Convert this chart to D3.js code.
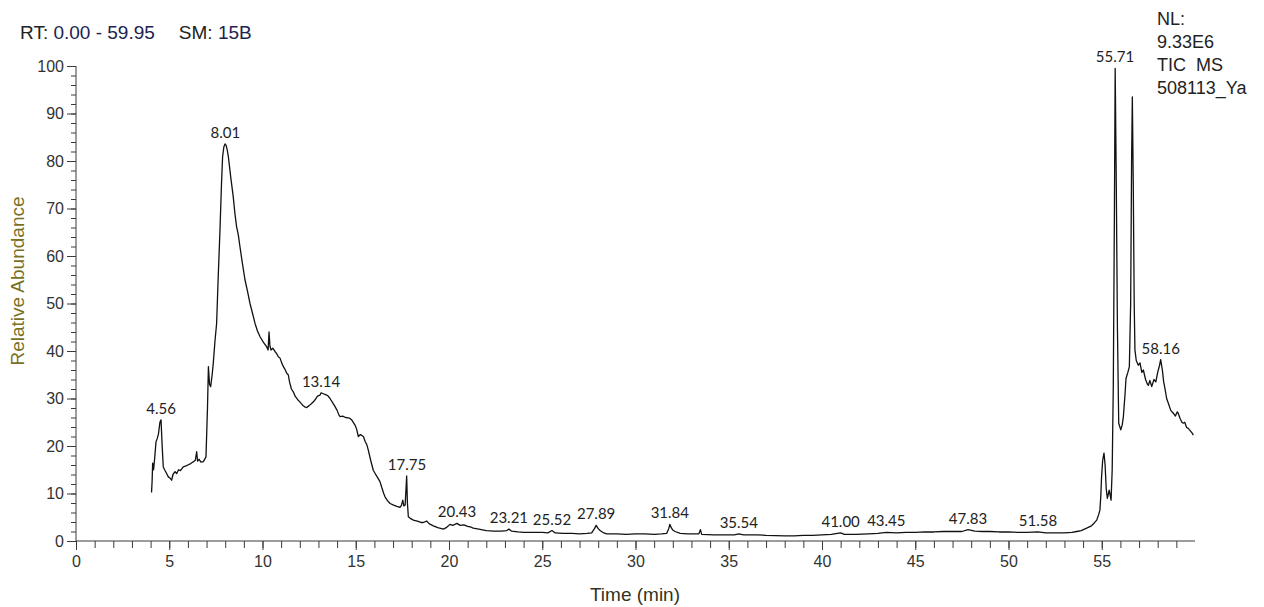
<!DOCTYPE html>
<html>
<head>
<meta charset="utf-8">
<script src="https://cdn.jsdelivr.net/npm/d3@7/dist/d3.min.js"></script>
<style>
  html, body { margin: 0; padding: 0; background: #ffffff; }
  svg { display: block; }
</style>
</head>
<body>
<svg id="chart" width="1264" height="607"></svg>
<script>
// ---- Data ----
const times = [
  4.05,4.08,4.11,4.16,4.22,4.29,4.35,4.42,4.50,4.56,4.62,4.68,4.75,4.86,4.95,5.05,5.13,5.20,5.31,5.40,
  5.50,5.60,5.75,5.90,6.00,6.15,6.29,6.40,6.47,6.52,6.60,6.70,6.83,6.97,7.05,7.10,7.16,7.22,7.30,7.36,
  7.45,7.54,7.62,7.72,7.80,7.86,7.93,7.99,8.05,8.10,8.17,8.30,8.43,8.52,8.61,8.70,8.79,8.92,9.06,9.20,
  9.33,9.46,9.60,9.73,9.87,10.05,10.22,10.30,10.35,10.40,10.46,10.55,10.67,10.75,10.85,10.94,11.03,11.12,11.20,11.30,
  11.38,11.45,11.55,11.65,11.75,11.88,12.00,12.15,12.28,12.37,12.50,12.62,12.73,12.85,12.95,13.08,13.14,13.26,13.38,13.50,
  13.62,13.75,13.89,14.00,14.10,14.16,14.30,14.45,14.60,14.69,14.80,14.96,15.05,15.14,15.25,15.41,15.50,15.60,15.67,15.80,
  15.94,16.10,16.30,16.40,16.50,16.57,16.70,16.84,17.00,17.20,17.37,17.45,17.52,17.58,17.65,17.73,17.77,17.82,17.95,18.09,
  18.30,18.50,18.62,18.80,18.95,19.16,19.40,19.70,19.85,20.05,20.20,20.43,20.60,20.80,21.00,21.13,21.30,21.60,22.00,22.40,
  22.80,23.10,23.21,23.35,23.70,24.00,24.50,25.00,25.30,25.52,25.70,26.10,26.60,27.00,27.40,27.65,27.80,27.89,28.00,28.10,
  28.30,28.46,29.00,29.50,30.00,30.50,31.00,31.40,31.67,31.78,31.84,31.92,32.00,32.12,32.40,32.80,33.20,33.40,33.48,33.55,
  34.20,34.80,35.30,35.54,35.80,36.50,37.00,38.00,38.50,39.00,39.50,40.00,40.50,41.00,41.20,41.80,42.50,43.00,43.45,44.00,
  44.50,45.00,45.50,46.00,46.50,47.00,47.50,47.83,48.20,48.60,49.00,49.50,50.00,50.50,51.00,51.58,52.00,52.50,53.00,53.40,
  53.66,53.90,54.19,54.45,54.60,54.73,54.83,54.90,54.95,54.99,55.05,55.12,55.18,55.24,55.30,55.40,55.50,55.56,55.62,55.68,
  55.72,55.78,55.84,55.91,56.02,56.10,56.16,56.25,56.30,56.40,56.48,56.55,56.60,56.64,56.69,56.74,56.78,56.85,56.96,57.05,
  57.15,57.23,57.35,57.45,57.50,57.58,57.68,57.80,57.90,58.00,58.10,58.16,58.25,58.32,58.39,58.48,58.57,58.70,58.84,58.95,
  59.05,59.10,59.20,59.30,59.37,59.45,59.55,59.64,59.75,59.85,59.91
];
const abundance = [
  10.2,12.5,16.4,15.0,17.5,20.9,21.5,22.5,25.0,25.5,20.0,15.6,15.0,14.2,13.5,13.2,12.8,14.0,14.6,14.2,
  15.0,14.8,15.6,15.8,16.0,16.3,16.7,17.0,18.8,16.8,17.2,16.6,16.7,17.7,28.0,36.7,33.0,32.5,35.0,37.4,
  42.0,45.8,55.0,65.5,75.0,80.9,83.0,83.6,83.3,82.5,80.9,76.5,72.5,69.0,66.2,64.5,62.0,58.5,55.0,52.5,
  50.0,48.0,45.8,44.2,43.0,41.8,40.9,40.2,44.0,41.0,40.2,40.6,39.9,39.5,38.8,38.5,37.5,36.7,36.2,35.3,
  35.0,33.5,32.0,31.4,30.5,29.8,29.3,28.6,28.2,28.1,28.5,28.9,29.3,29.9,30.5,30.7,31.2,31.0,30.8,30.6,
  30.0,29.2,28.3,27.5,26.5,26.2,26.3,26.0,25.9,25.8,25.4,24.4,23.5,22.0,22.4,22.0,21.0,20.2,19.2,17.0,
  14.9,13.8,12.5,11.2,10.0,9.3,8.5,7.9,7.6,7.3,7.1,7.5,8.6,7.4,7.6,13.7,8.0,5.1,4.7,4.4,
  4.2,3.9,3.9,4.2,3.6,3.2,2.8,2.5,2.8,3.5,3.3,3.7,3.3,3.4,3.1,3.0,2.7,2.5,2.2,2.1,
  2.1,2.2,2.5,2.1,1.9,1.8,1.8,1.8,1.7,2.2,1.7,1.6,1.6,1.5,1.6,1.7,2.6,3.3,2.6,2.2,
  1.7,1.5,1.5,1.4,1.5,1.5,1.4,1.5,1.6,2.6,3.5,2.8,2.3,2.0,1.6,1.5,1.5,1.5,2.4,1.4,
  1.3,1.3,1.3,1.5,1.3,1.3,1.2,1.1,1.1,1.2,1.2,1.3,1.4,1.7,1.4,1.4,1.5,1.6,1.8,1.7,
  1.8,1.8,1.9,1.9,2.0,2.0,2.0,2.4,2.1,2.0,2.0,1.9,1.9,1.8,1.8,1.9,1.7,1.7,1.7,1.8,
  2.0,2.2,2.7,3.2,3.8,4.4,5.5,6.5,9.5,13.5,17.0,18.5,16.0,11.0,9.0,10.7,8.6,15.0,33.0,70.0,
  99.5,75.0,45.0,24.8,23.4,24.5,26.2,31.0,34.2,35.5,36.7,50.0,80.0,93.5,75.0,50.0,40.2,38.0,37.0,37.5,
  35.5,36.0,34.0,33.0,32.8,33.8,32.5,34.0,33.5,35.5,37.0,38.2,36.0,33.5,32.1,30.0,29.0,27.5,26.9,26.3,
  27.2,26.9,25.8,25.0,24.8,25.0,23.9,23.7,23.2,22.7,22.3
];

// labelled peaks
const peakTimes  = [4.56, 8.01, 13.14, 17.75, 20.43, 23.21, 25.52, 27.89, 31.84, 35.54, 41.00, 43.45, 47.83, 51.58, 55.71, 58.16];
const peakLabels = ["4.56","8.01","13.14","17.75","20.43","23.21","25.52","27.89","31.84","35.54","41.00","43.45","47.83","51.58","55.71","58.16"];
const peakHeights = [25.5, 83.6, 31.2, 13.7, 3.7, 2.5, 2.2, 3.3, 3.5, 1.5, 1.7, 1.8, 2.4, 1.9, 99.5, 38.2];

const xMajorTicks = [0,5,10,15,20,25,30,35,40,45,50,55];
const yMajorTicks = [0,10,20,30,40,50,60,70,80,90,100];

const headerRT = "0.00 - 59.95";
const headerSM = "15B";
const infoLines = ["NL:", "9.33E6", "TIC  MS", "508113_Ya"];

// ---- Drawing ----
const svg = d3.select("#chart");
const x = d3.scaleLinear().domain([0, 60]).range([76, 1195]);
const y = d3.scaleLinear().domain([0, 100]).range([541, 66]);

const axisColor = "#3a3a3a";
const tickFont = "Liberation Sans, Arial, sans-serif";

// X axis
const xAxis = svg.append("g").attr("transform", `translate(0,${y(0)})`);
xAxis.call(d3.axisBottom(x).tickValues(d3.range(0, 60, 1)).tickSize(7).tickFormat(""));
xAxis.call(g => g.select(".domain").attr("stroke", axisColor).attr("d", `M${x(0)},0H${x(60)}`));
xAxis.selectAll(".tick line").attr("stroke", axisColor);
const xMaj = svg.append("g").attr("transform", `translate(0,${y(0)})`)
  .call(d3.axisBottom(x).tickValues(xMajorTicks).tickSize(9).tickPadding(6).tickFormat(d3.format("d")));
xMaj.select(".domain").remove();
xMaj.selectAll(".tick line").attr("stroke", axisColor);
xMaj.selectAll(".tick text").attr("fill", "#333").style("font-family", tickFont).style("font-size", "16px");

// Y axis
const yAxis = svg.append("g").attr("transform", `translate(${x(0)},0)`);
yAxis.call(d3.axisLeft(y).tickValues(d3.range(0, 101, 2)).tickSize(5).tickFormat(""));
yAxis.call(g => g.select(".domain").attr("stroke", axisColor).attr("d", `M0,${y(0)}V${y(100)}`));
yAxis.selectAll(".tick line").attr("stroke", axisColor);
const yMaj = svg.append("g").attr("transform", `translate(${x(0)},0)`)
  .call(d3.axisLeft(y).tickValues(yMajorTicks).tickSize(9).tickPadding(3).tickFormat(d3.format("d")));
yMaj.select(".domain").remove();
yMaj.selectAll(".tick line").attr("stroke", axisColor);
yMaj.selectAll(".tick text").attr("fill", "#333").style("font-family", tickFont).style("font-size", "16px");

// trace
const pts = times.map((t, i) => [t, abundance[i]]);
svg.append("path")
  .datum(pts)
  .attr("fill", "none")
  .attr("stroke", "#111")
  .attr("stroke-width", 1.3)
  .attr("stroke-linejoin", "round")
  .attr("d", d3.line().x(d => x(d[0])).y(d => y(d[1])));

// peak labels
svg.append("g").selectAll("text")
  .data(peakTimes)
  .join("text")
  .attr("x", d => x(d))
  .attr("y", (d, i) => y(peakHeights[i]) - 6)
  .attr("text-anchor", "middle")
  .attr("fill", "#222")
  .style("font-family", "Lato, 'Open Sans', sans-serif")
  .style("font-size", "15px")
  .text((d, i) => peakLabels[i]);

// header
const hdr = svg.append("text")
  .attr("x", 20).attr("y", 39)
  .style("font-family", tickFont).style("font-size", "19px").attr("fill", "#222");
hdr.append("tspan").text("RT: ");
hdr.append("tspan").attr("fill", "#1c2350").text(headerRT);
hdr.append("tspan").attr("dx", 24).text("SM: ");
hdr.append("tspan").attr("fill", "#1c2350").text(headerSM);

// info block
svg.append("g").selectAll("text")
  .data(infoLines)
  .join("text")
  .attr("x", 1157)
  .attr("y", (d, i) => 25 + i * 23)
  .attr("fill", "#222")
  .style("font-family", tickFont).style("font-size", "18px")
  .style("white-space", "pre")
  .text(d => d);

// axis titles
svg.append("text")
  .attr("transform", `translate(24,281) rotate(-90)`)
  .attr("text-anchor", "middle")
  .attr("fill", "#7a6f1e")
  .style("font-family", tickFont).style("font-size", "19px")
  .text("Relative Abundance");

svg.append("text")
  .attr("x", 635).attr("y", 601)
  .attr("text-anchor", "middle")
  .attr("fill", "#33331f")
  .style("font-family", tickFont).style("font-size", "19px")
  .text("Time (min)");
</script>
</body>
</html>
